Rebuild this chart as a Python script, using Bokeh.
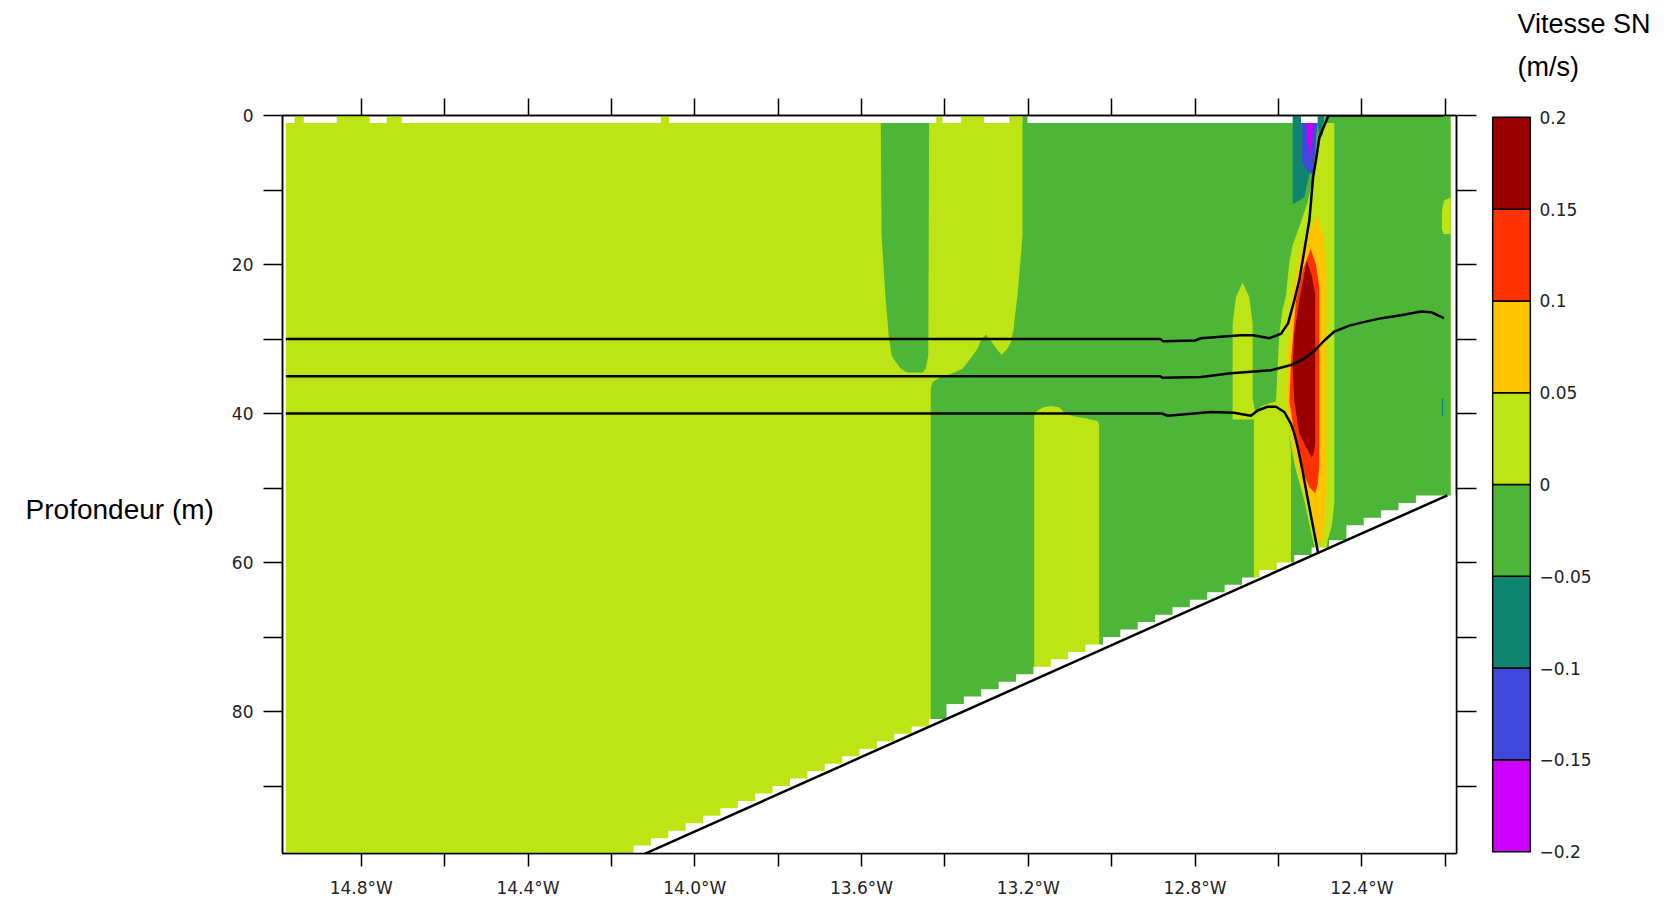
import numpy as np
from bokeh.plotting import figure
from bokeh.layouts import row
from bokeh.models import Range1d, FixedTicker, CustomJSTickFormatter, LinearAxis, Title
from bokeh.embed import file_html
from bokeh.resources import INLINE

# ---------------- data ----------------
level_edges = [-0.2, -0.15, -0.1, -0.05, 0.0, 0.05, 0.1, 0.15, 0.2]
level_colors = ["#cc00ff", "#4048dc", "#0f8470", "#4db638", "#bde415", "#ffc400", "#ff3300", "#990000"]
cbar_labels = ["\u22120.2", "\u22120.15", "\u22120.1", "\u22120.05", "0", "0.05", "0.1", "0.15", "0.2"]

x_ticks = [-14.8, -14.6, -14.4, -14.2, -14.0, -13.8, -13.6, -13.4, -13.2, -13.0, -12.8, -12.6, -12.4, -12.2]
x_labels = ["14.8°W", "", "14.4°W", "", "14.0°W", "", "13.6°W", "", "13.2°W", "", "12.8°W", "", "12.4°W", ""]
y_ticks = [0, 10, 20, 30, 40, 50, 60, 70, 80, 90]
y_labels = ["0", "", "20", "", "40", "", "60", "", "80", ""]

# model domain (lon, depth of first wet level / bottom)
domain_lon = [-14.981, -12.187]
domain_depth = [1.0, 100.0]
domain_value = 0.025
n_columns = 67

# cells reaching the surface (0-1 m)
surface_left = [-14.960, -14.859, -14.739, -14.082, -13.421, -13.362, -13.246, -13.214, -12.566, -12.506, -12.490]
surface_right = [-14.938, -14.780, -14.703, -14.062, -13.406, -13.306, -13.214, -13.202, -12.546, -12.490, -12.187]
surface_value = [0.025, 0.025, 0.025, 0.025, 0.025, 0.025, 0.025, -0.025, -0.075, -0.075, -0.025]

# velocity regions (lon, depth, velocity class)
big_green_lon = [-13.214, -13.214, -13.218, -13.222, -13.226, -13.232, -13.235, -13.242, -13.250, -13.264,
                 -13.274, -13.290, -13.302, -13.314, -13.322, -13.338, -13.358, -13.386, -13.410, -13.430,
                 -13.434, -13.434, -12.187, -12.187]
big_green_dep = [1.0, 16.1, 18.8, 21.5, 24.2, 26.8, 28.6, 30.4, 31.3, 32.1,
                 31.5, 30.2, 29.4, 30.2, 31.3, 32.6, 34.0, 34.7, 35.1, 35.8,
                 36.7, 100.0, 100.0, 1.0]
big_green_val = -0.025

green_band_lon = [-13.554, -13.552, -13.546, -13.543, -13.539, -13.535, -13.528, -13.518, -13.506, -13.490,
                  -13.454, -13.446, -13.440, -13.438]
green_band_dep = [1.0, 16.1, 21.5, 24.2, 26.8, 29.5, 32.2, 33.1, 34.0, 34.5,
                  34.5, 34.0, 32.2, 1.0]
green_band_val = -0.025

yellow_band2_lon = [-13.186, -13.186, -13.178, -13.165, -13.146, -13.125, -13.112, -13.090, -13.066, -13.034, -13.030, -13.030]
yellow_band2_dep = [100.0, 40.3, 39.6, 39.2, 39.0, 39.2, 40.0, 40.4, 40.6, 41.0, 41.5, 100.0]
yellow_band2_val = 0.025

yellow_a_lon = [-12.686, -12.670, -12.662, -12.662, -12.652, -12.710, -12.710, -12.702]
yellow_a_dep = [22.4, 24.4, 27.9, 38.0, 40.8, 40.8, 27.9, 24.4]
yellow_a_val = 0.025

yellow_b_lon = [-12.659, -12.659, -12.652, -12.640, -12.620, -12.600, -12.575, -12.570, -12.570]
yellow_b_dep = [100.0, 40.6, 39.6, 39.0, 38.6, 38.3, 42.7, 45.0, 100.0]
yellow_b_val = 0.025

fringe_lon = [-12.490, -12.466, -12.466, -12.472, -12.482, -12.490, -12.512, -12.512, -12.521, -12.538,
              -12.560, -12.575, -12.606, -12.602, -12.598, -12.590, -12.582, -12.574, -12.566, -12.546,
              -12.530, -12.517, -12.509, -12.502]
fringe_dep = [1.0, 1.0, 52.0, 55.0, 57.0, 60.0, 60.0, 58.4, 56.1, 51.7,
              47.2, 42.7, 38.3, 33.8, 29.3, 26.0, 24.2, 19.7, 17.4, 14.3,
              11.6, 8.3, 5.6, 2.95]
fringe_val = 0.025

orange_lon = [-12.506, -12.494, -12.485, -12.485, -12.488, -12.494, -12.506, -12.518, -12.538, -12.558,
              -12.570, -12.582, -12.578, -12.570, -12.550, -12.526]
orange_dep = [13.6, 16.0, 20.0, 50.0, 54.0, 57.0, 57.5, 54.4, 50.7, 46.3,
              42.7, 38.3, 32.9, 24.8, 19.0, 15.5]
orange_val = 0.075

red_lon = [-12.523, -12.510, -12.502, -12.502, -12.506, -12.512, -12.526, -12.546, -12.562, -12.574,
           -12.570, -12.558, -12.540]
red_dep = [17.9, 20.0, 23.0, 47.0, 49.5, 50.7, 49.9, 47.2, 42.7, 38.3,
           32.9, 24.8, 20.5]
red_val = 0.125

darkred_lon = [-12.532, -12.520, -12.512, -12.512, -12.516, -12.520, -12.534, -12.550, -12.562, -12.566,
               -12.562, -12.550]
darkred_dep = [19.5, 21.5, 24.0, 44.0, 45.4, 45.9, 44.5, 42.7, 38.3, 33.8,
               29.3, 24.8]
darkred_val = 0.175

teal_lon = [-12.566, -12.566, -12.538, -12.530, -12.520, -12.512, -12.506]
teal_dep = [1.0, 11.9, 11.0, 9.0, 6.0, 3.0, 1.0]
teal_val = -0.075

teal2_lon = [-12.506, -12.494, -12.494, -12.502]
teal2_dep = [1.0, 1.0, 2.5, 3.3]
teal2_val = -0.075

blue_lon = [-12.543, -12.543, -12.526, -12.518, -12.512, -12.507]
blue_dep = [1.0, 6.3, 7.8, 7.8, 5.0, 1.0]
blue_val = -0.125

magenta_lon = [-12.533, -12.530, -12.524, -12.519, -12.517]
magenta_dep = [1.0, 3.5, 5.6, 3.5, 1.0]
magenta_val = -0.175

blob_lon = [-12.187, -12.203, -12.208, -12.208, -12.204, -12.187]
blob_dep = [11.0, 11.4, 12.8, 15.2, 15.9, 15.9]
blob_val = 0.025

mark_lon = [-12.208, -12.205, -12.205, -12.208]
mark_dep = [38.0, 38.0, 40.3, 40.3]
mark_val = -0.075

# bathymetry
bathy_lon = [-14.12, -13.6, -13.2, -12.8, -12.4, -12.195]
bathy_depth = [99.1, 86.1, 76.1, 66.1, 56.1, 51.0]

# isolines (30, 35, 40 m)
iso30_lon = [-14.981, -12.884, -12.876, -12.800, -12.786, -12.690, -12.661, -12.622, -12.594, -12.577,
             -12.562, -12.550, -12.538, -12.526, -12.517, -12.509, -12.502, -12.480, -12.205]
iso30_dep = [30.0, 30.0, 30.3, 30.2, 29.9, 29.5, 29.5, 29.9, 29.3, 27.9,
             24.8, 22.1, 18.1, 14.1, 8.3, 5.6, 2.95, 0.0, 0.0]
iso35_lon = [-14.981, -12.884, -12.878, -12.786, -12.714, -12.618, -12.570, -12.540, -12.514, -12.490,
             -12.466, -12.430, -12.401, -12.353, -12.306, -12.258, -12.234, -12.203]
iso35_dep = [35.0, 35.0, 35.2, 35.1, 34.6, 34.2, 33.5, 32.7, 31.6, 30.2,
             29.0, 28.2, 27.8, 27.2, 26.8, 26.3, 26.4, 27.2]
iso40_lon = [-14.981, -12.880, -12.866, -12.803, -12.762, -12.707, -12.666, -12.650, -12.626, -12.606,
             -12.586, -12.570, -12.562, -12.554, -12.544, -12.529, -12.514, -12.505]
iso40_dep = [40.0, 40.0, 40.3, 40.0, 39.8, 39.9, 40.3, 39.6, 39.1, 39.1,
             39.8, 41.4, 42.7, 44.5, 47.2, 51.7, 56.1, 58.7]


# ---------------- helpers ----------------
def color_of(v):
    for i in range(len(level_colors)):
        if level_edges[i] <= v < level_edges[i + 1]:
            return level_colors[i]
    return level_colors[-1]


def fmt(tick_values, tick_texts):
    return CustomJSTickFormatter(args=dict(tv=tick_values, tt=tick_texts), code="""
        const i = tv.findIndex(t => Math.abs(t - tick) < 1e-6);
        return i >= 0 ? tt[i] : "";
    """)


def style_axis(ax, tick_out, standoff, show_labels=True):
    ax.major_tick_out = tick_out
    ax.major_tick_in = 0
    ax.minor_tick_line_color = None
    ax.axis_line_color = "black"
    ax.axis_line_width = 1.5
    ax.major_tick_line_color = "black"
    ax.major_tick_line_width = 1.5
    ax.major_label_text_font = "DejaVu Sans"
    ax.major_label_text_font_size = "17px" if show_labels else "0px"
    ax.major_label_text_color = "#222222"
    ax.major_label_standoff = standoff


# ---------------- main figure ----------------
p = figure(width=1482, height=900, x_range=Range1d(-14.989, -12.173), y_range=Range1d(99.06, 0),
           output_backend="svg", toolbar_location=None,
           min_border_left=282, min_border_right=26, min_border_top=115, min_border_bottom=47)
p.grid.visible = False
p.outline_line_color = "black"
p.outline_line_width = 1.5
p.background_fill_color = "white"

p.quad(left=[domain_lon[0]], right=[domain_lon[1]], top=[domain_depth[0]], bottom=[domain_depth[1]],
       fill_color=color_of(domain_value), line_color=None)
p.quad(left=surface_left, right=surface_right, top=[0.0] * len(surface_left), bottom=[1.0] * len(surface_left),
       fill_color=[color_of(v) for v in surface_value], line_color=None)

regions = [
    (big_green_lon, big_green_dep, big_green_val),
    (green_band_lon, green_band_dep, green_band_val),
    (yellow_band2_lon, yellow_band2_dep, yellow_band2_val),
    (yellow_a_lon, yellow_a_dep, yellow_a_val),
    (yellow_b_lon, yellow_b_dep, yellow_b_val),
    (fringe_lon, fringe_dep, fringe_val),
    (orange_lon, orange_dep, orange_val),
    (red_lon, red_dep, red_val),
    (darkred_lon, darkred_dep, darkred_val),
    (teal_lon, teal_dep, teal_val),
    (teal2_lon, teal2_dep, teal2_val),
    (blue_lon, blue_dep, blue_val),
    (magenta_lon, magenta_dep, magenta_val),
    (blob_lon, blob_dep, blob_val),
    (mark_lon, mark_dep, mark_val),
]
for lon, dep, v in regions:
    p.patch(lon, dep, fill_color=color_of(v), line_color=None)

# land mask: model columns, last wet level above the bathymetry
edges = np.linspace(domain_lon[0], domain_lon[1], n_columns + 1)
wet = np.floor(np.interp(edges[1:], bathy_lon, bathy_depth))
wet[wet >= 99] = 101.0
mx, my = [float(edges[0]) - 0.02], [float(wet[0])]
for k in range(n_columns):
    mx += [float(edges[k]), float(edges[k + 1])]
    my += [float(wet[k]), float(wet[k])]
mx += [float(edges[-1]) + 0.03, float(edges[-1]) + 0.03, float(edges[0]) - 0.02]
my += [float(wet[-1]), 101.0, 101.0]
p.patch(mx, my, fill_color="white", line_color=None)

p.line(bathy_lon, bathy_depth, line_color="black", line_width=2.5)
for lon, dep in [(iso30_lon, iso30_dep), (iso35_lon, iso35_dep), (iso40_lon, iso40_dep)]:
    p.line(lon, dep, line_color="black", line_width=2.5)

# axes
p.xaxis.ticker = FixedTicker(ticks=x_ticks)
p.xaxis.formatter = fmt(x_ticks, x_labels)
style_axis(p.xaxis[0], 13, 11)
p.yaxis.ticker = FixedTicker(ticks=y_ticks)
p.yaxis.formatter = fmt(y_ticks, y_labels)
style_axis(p.yaxis[0], 19, 10)
yax = p.yaxis[0]
yax.axis_label = "\nProfondeur (m)"
yax.axis_label_text_font = "Liberation Sans"
yax.axis_label_text_font_size = "28px"
yax.axis_label_text_font_style = "normal"
yax.axis_label_text_color = "black"
yax.axis_label_text_line_height = 1.6
yax.axis_label_standoff = 15
try:
    yax.axis_label_orientation = "horizontal"
except Exception:
    pass

top_ax = LinearAxis(ticker=FixedTicker(ticks=x_ticks), formatter=fmt(x_ticks, [""] * len(x_ticks)))
style_axis(top_ax, 17, 0, show_labels=False)
p.add_layout(top_ax, "above")
right_ax = LinearAxis(ticker=FixedTicker(ticks=y_ticks), formatter=fmt(y_ticks, [""] * len(y_ticks)))
style_axis(right_ax, 20, 0, show_labels=False)
p.add_layout(right_ax, "right")

# ---------------- colour bar ----------------
cb = figure(width=182, height=900, x_range=Range1d(-0.03, 1.03), y_range=Range1d(-0.201, 0.201),
            output_backend="svg", toolbar_location=None, x_axis_location=None, y_axis_location="right",
            min_border_left=9, min_border_right=133, min_border_top=115, min_border_bottom=47)
cb.grid.visible = False
cb.outline_line_color = None
cb.quad(left=[0.0] * 8, right=[1.0] * 8, bottom=level_edges[:-1], top=level_edges[1:],
        fill_color=level_colors, line_color="black", line_width=1.5)
cb.yaxis.ticker = FixedTicker(ticks=level_edges)
cb.yaxis.formatter = fmt(level_edges, cbar_labels)
cb.yaxis.major_tick_out = 0
cb.yaxis.major_tick_in = 0
cb.yaxis.minor_tick_line_color = None
cb.yaxis.major_tick_line_color = None
cb.yaxis.axis_line_color = None
cb.yaxis.major_label_standoff = 8
cb.yaxis.major_label_text_font = "DejaVu Sans"
cb.yaxis.major_label_text_font_size = "17px"
cb.yaxis.major_label_text_color = "#222222"

t_unit = Title(text="(m/s)", align="left", offset=26, standoff=68, text_font="Liberation Sans",
               text_font_size="27px", text_font_style="normal", text_color="black")
t_name = Title(text="Vitesse SN", align="left", offset=26, standoff=0, text_font="Liberation Sans",
               text_font_size="27px", text_font_style="normal", text_color="black")
try:
    t_name.standoff = -47
except Exception:
    pass
cb.add_layout(t_unit, "above")
cb.add_layout(t_name, "above")

layout = row(p, cb)
open("out.html", "w", encoding="utf-8").write(file_html(layout, INLINE))
